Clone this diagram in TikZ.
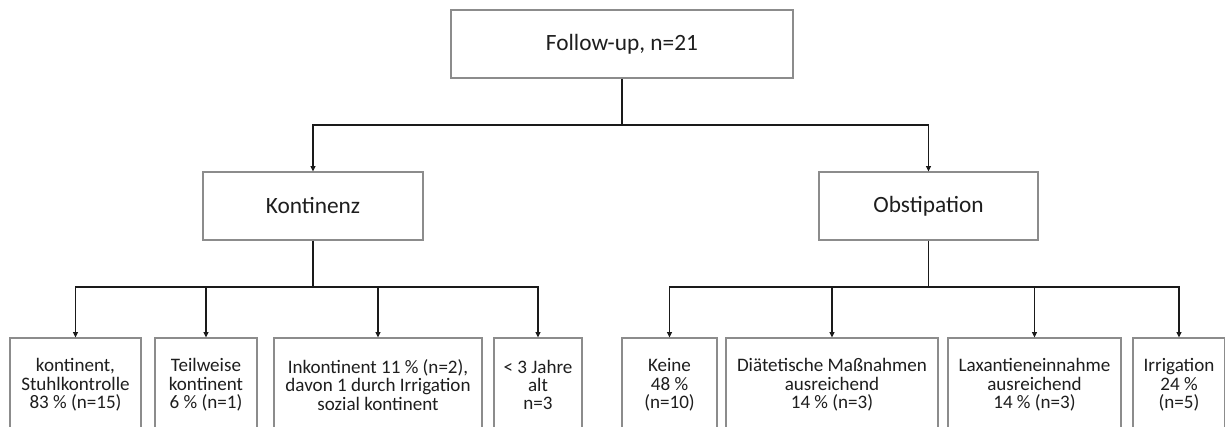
\documentclass[tikz,border=0pt]{standalone}
\usepackage{fontspec}
\setmainfont{Carlito}
\usetikzlibrary{arrows.meta}
\definecolor{boxgray}{HTML}{8C8C8C}
\definecolor{txt}{HTML}{1E1E1E}
\definecolor{lin}{HTML}{1A1A1A}
\tikzset{
  box/.style={draw=boxgray, line width=0.8pt, align=center, inner sep=0pt, text=txt},
  topbox/.style={box, font=\fontsize{17.5}{20}\selectfont, minimum height=51pt},
  leaf/.style={box, font=\fontsize{14.3}{13.8}\selectfont, minimum height=70.5pt},
  conn/.style={draw=lin, line width=1pt},
  arr/.style={conn, -{Triangle[length=4pt,width=3.6pt]}}
}
\begin{document}
\begin{tikzpicture}[x=0.75pt,y=-0.75pt]
\useasboundingbox (0,0) rectangle (1225,426);
\clip (0,0) rectangle (1225,426);
\fill[white] (0,0) rectangle (1225,426);
\node[topbox, minimum width=256.5pt] (top) at (622,44) {Follow-up, n=21};
\node[topbox, minimum width=165pt] (kont) at (313,206) {Kontinenz};
\node[topbox, minimum width=164.25pt] (obst) at (928.5,206) {Obstipation};
\node[leaf, minimum width=98.25pt] (b1) at (75.5,385) {kontinent,\\Stuhlkontrolle\\83 \% (n=15)};
\node[leaf, minimum width=76.5pt] (b2) at (206,385) {Teilweise\\kontinent\\6 \% (n=1)};
\node[leaf, minimum width=156pt] (b3) at (378,385) {Inkontinent 11 \% (n=2),\\davon 1 durch Irrigation\\sozial kontinent};
\node[leaf, minimum width=66pt] (b4) at (538,385) {< 3 Jahre\\alt\\n=3};
\node[leaf, minimum width=71.25pt] (b5) at (669.5,385) {Keine\\48 \%\\(n=10)};
\node[leaf, minimum width=159pt] (b6) at (832,385) {Diätetische Maßnahmen\\ausreichend\\14 \% (n=3)};
\node[leaf, minimum width=129.75pt] (b7) at (1034.5,385) {Laxantieneinnahme\\ausreichend\\14 \% (n=3)};
\node[leaf, minimum width=69pt] (b8) at (1179,385) {Irrigation\\24 \%\\(n=5)};
\coordinate (j0) at (622,125);
\coordinate (jk) at (313,287);
\coordinate (jo) at (928.5,287);
\draw[conn] (top.south) -- (j0);
\draw[arr] (j0) -| (kont.north);
\draw[arr] (j0) -| (obst.north);
\draw[conn] (kont.south) -- (jk);
\draw[conn] (obst.south) -- (jo);
\foreach \b in {b1,b2,b3,b4}{\draw[arr] (jk) -| (\b.north);}
\foreach \b in {b5,b6,b7,b8}{\draw[arr] (jo) -| (\b.north);}
\end{tikzpicture}
\end{document}
